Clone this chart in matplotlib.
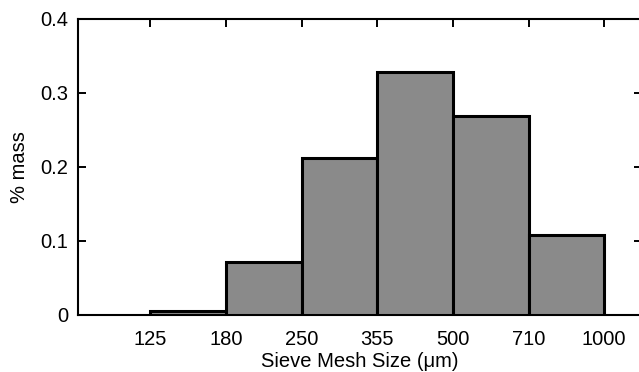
import numpy as np
import matplotlib
matplotlib.use("Agg")
from matplotlib import pyplot as plt

# sieve fractions (um) and mass fraction retained
edges = ["125", "180", "250", "355", "500", "710", "1000"]
mass = [0.006, 0.072, 0.212, 0.329, 0.269, 0.108]

plt.rcParams['font.family'] = ['Liberation Sans', 'DejaVu Sans']

fig = plt.figure(figsize=(6.39, 3.72), dpi=100)
ax = fig.add_axes([78 / 639, 1 - 315 / 372, (642 - 78) / 639, (315 - 19) / 372])

pos = np.arange(1, len(edges) + 1)
ax.bar(pos[:-1], mass, width=1.0, align='edge',
       color='#8a8a8a', edgecolor='black', linewidth=2.2, zorder=3)

ax.set_xlim(0.046, 7.5)
ax.set_ylim(0, 0.4)
ax.set_xticks(pos)
ax.set_xticklabels(edges)
ax.set_yticks([0, 0.1, 0.2, 0.3, 0.4])
ax.set_yticklabels(["0", "0.1", "0.2", "0.3", "0.4"])

ax.tick_params(direction='in', length=6, width=1.4, top=True, right=True,
               bottom=False, labelsize=14.5, colors='black')
ax.tick_params(axis='x', pad=11)
ax.tick_params(axis='y', pad=7)
for s in ax.spines.values():
    s.set_linewidth(1.5)

ax.set_xlabel("Sieve Mesh Size (μm)", fontsize=14.5, labelpad=2)
ax.set_ylabel("% mass", fontsize=14.5, labelpad=8)

fig.savefig("out.png", dpi=100)
